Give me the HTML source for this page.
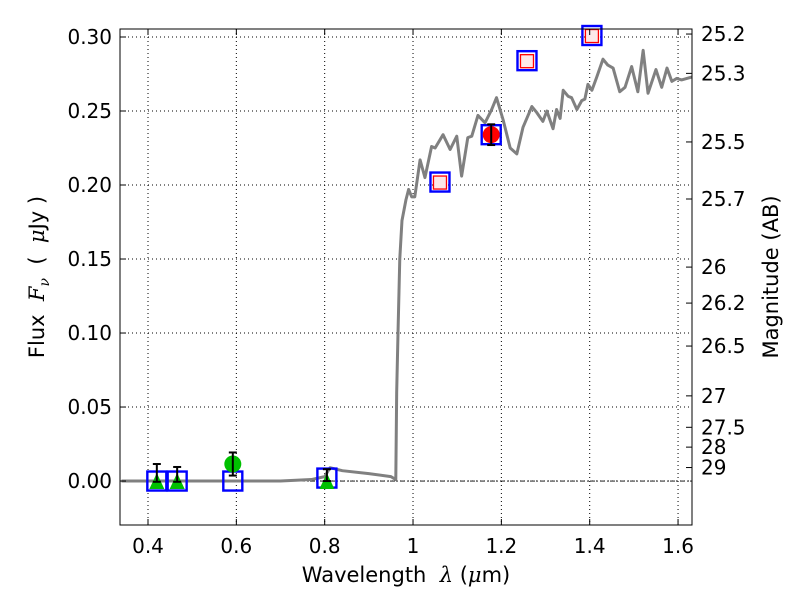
<!DOCTYPE html>
<html><head><meta charset="utf-8"><style>
body{margin:0;background:#fff;}
svg text{font-family:"DejaVu Sans","Liberation Sans",sans-serif;fill:#000;}
</style></head><body>
<svg id="chart" width="800" height="600" xmlns="http://www.w3.org/2000/svg">
<rect width="800" height="600" fill="#fff"/>
<g id="grid"></g>
<g id="plot"></g>
<g id="axes"></g>
<text x="406" y="582" font-size="21" text-anchor="middle" xml:space="preserve">Wavelength  <tspan font-style="italic" font-family="DejaVu Serif,serif">λ</tspan> (<tspan font-style="italic" font-family="DejaVu Serif,serif">μ</tspan>m)</text>
<text transform="translate(44,277) rotate(-90)" font-size="21" text-anchor="middle" xml:space="preserve">Flux  <tspan font-style="italic" font-family="DejaVu Serif,serif">F</tspan><tspan font-style="italic" font-family="DejaVu Serif,serif" font-size="14" dy="5">ν</tspan><tspan dy="-5">  (  </tspan><tspan font-style="italic" font-family="DejaVu Serif,serif">μ</tspan>Jy )</text>
<text transform="translate(778,277) rotate(-90)" font-size="21" text-anchor="middle">Magnitude (AB)</text>
</svg>
<script>
const specWl=[0.34,0.5,0.7,0.77,0.8,0.812,0.84,0.9,0.95,0.961,0.963,0.966,0.970,0.975,0.984,0.990,0.997,1.004,1.016,1.027,1.042,1.050,1.068,1.084,1.099,1.110,1.124,1.133,1.147,1.163,1.178,1.189,1.204,1.220,1.235,1.249,1.269,1.280,1.294,1.303,1.317,1.325,1.333,1.340,1.351,1.359,1.371,1.382,1.389,1.396,1.405,1.416,1.430,1.441,1.453,1.468,1.480,1.495,1.509,1.521,1.532,1.550,1.563,1.575,1.586,1.597,1.608,1.632];
const specFlux=[0,0,0,0.001,0.003,0.009,0.007,0.005,0.003,0.001,0.06,0.10,0.15,0.176,0.190,0.197,0.192,0.192,0.217,0.205,0.226,0.225,0.234,0.224,0.233,0.206,0.232,0.233,0.247,0.242,0.251,0.259,0.244,0.225,0.221,0.239,0.253,0.249,0.243,0.250,0.238,0.251,0.245,0.264,0.260,0.259,0.251,0.257,0.258,0.268,0.264,0.273,0.285,0.281,0.279,0.263,0.266,0.280,0.263,0.291,0.262,0.278,0.266,0.279,0.270,0.272,0.271,0.273];
const sqWl=[0.42,0.466,0.592,0.805,1.061,1.177,1.258,1.405];
const sqFlux=[0,0,0,0.002,0.202,0.234,0.284,0.301];
const sqInner=[0,0,0,0,1,0,1,1];
const triWl=[0.42,0.466,0.805];
const triFlux=[0,0,0];
const triErrVal=[0.0055,0.0045,0.004];
const triErr=[0.006,0.005,0.004];
const circWl=[0.592,1.177];
const circFlux=[0.0115,0.234];
const circErr=[0.0078,0.007];
const circColor=["#00c000","#ff0000"];
const xTicks=[0.4,0.6,0.8,1.0,1.2,1.4,1.6];
const xTickLabels=["0.4","0.6","0.8","1","1.2","1.4","1.6"];
const yTicks=[0,0.05,0.1,0.15,0.2,0.25,0.3];
const yTickLabels=["0.00","0.05","0.10","0.15","0.20","0.25","0.30"];
const magTicks=[25.2,25.3,25.5,25.7,26,26.2,26.5,27,27.5,28,29];

const L=120,R=692,T=29,B=525;
const X0=0.3366,X1=1.6316,Y0=-0.0297,Y1=0.3054;
const sx=v=>L+(v-X0)/(X1-X0)*(R-L);
const sy=v=>B-(v-Y0)/(Y1-Y0)*(B-T);
const NS="http://www.w3.org/2000/svg";
function mk(parent,tag,attrs){const e=document.createElementNS(NS,tag);for(const k in attrs)e.setAttribute(k,attrs[k]);parent.appendChild(e);return e;}
const grid=document.getElementById('grid'),plot=document.getElementById('plot'),axes=document.getElementById('axes');
xTicks.forEach((t,i)=>{
 const g=mk(grid,'line',{x1:sx(t),x2:sx(t),y1:T,y2:B,stroke:'#000','stroke-dasharray':'1,3','stroke-width':1});
 
 
 mk(axes,'line',{x1:sx(t),x2:sx(t),y1:B,y2:B-6,stroke:'#000'});
 mk(axes,'line',{x1:sx(t),x2:sx(t),y1:T,y2:T+6,stroke:'#000'});
 const tx=mk(axes,'text',{x:sx(t),y:B+28,'font-size':20,'text-anchor':'middle'});tx.textContent=xTickLabels[i];
 
 
});
yTicks.forEach((t,i)=>{
 const g=mk(grid,'line',{x1:L,x2:R,y1:sy(t),y2:sy(t),stroke:'#000','stroke-dasharray':'1,3','stroke-width':1});
 
 
 mk(axes,'line',{x1:L,x2:L+6,y1:sy(t),y2:sy(t),stroke:'#000'});
 const tx=mk(axes,'text',{x:L-8,y:sy(t)+7,'font-size':20,'text-anchor':'end'});tx.textContent=yTickLabels[i];
 
 
});
magTicks.forEach(m=>{
 const f=Math.pow(10,(23.9-m)/2.5);const y=sy(f);
 mk(axes,'line',{x1:R,x2:R-6,y1:y,y2:y,stroke:'#000'});
 const tx=mk(axes,'text',{x:R+9,y:y+7,'font-size':20});tx.textContent=String(m);
 
 
});
const zl=mk(plot,'line',{x1:L,x2:R,y1:sy(0),y2:sy(0),stroke:'#000','stroke-dasharray':'5,2,1,2','stroke-width':0.8});


const sp=mk(plot,'polyline',{points:specWl.map((w,i)=>sx(w)+','+sy(specFlux[i])).join(' '),fill:'none',stroke:'#808080','stroke-width':3,'stroke-linejoin':'round'});


sqWl.forEach((w,i)=>{
 const x=sx(w),y=sy(sqFlux[i]);
 const s=mk(plot,'rect',{x:x-9.5,y:y-9.5,width:19,height:19,fill:'none',stroke:'#0000ff','stroke-width':2.4});
 
 
 if(sqInner[i]){const r=mk(plot,'rect',{x:x-6.5,y:y-6,width:13,height:13,fill:'#fde8e8',stroke:'#ff0000','stroke-width':1.3});
 
 }
});
triWl.forEach((w,i)=>{
 const x=sx(w),y=sy(triFlux[i]);
 const t=mk(plot,'polygon',{points:`${x},${y-8} ${x-7.5},${y+8} ${x+7.5},${y+8}`,fill:'#00c000'});
 
 
 const yc=triErrVal[i],e=triErr[i],y1=sy(yc+e),y2=sy(yc-e);
 mk(plot,'line',{x1:x,x2:x,y1:y1,y2:y2,stroke:'#000','stroke-width':2});
 mk(plot,'line',{x1:x-4,x2:x+4,y1:y1,y2:y1,stroke:'#000','stroke-width':2});
 mk(plot,'line',{x1:x-4,x2:x+4,y1:y2,y2:y2,stroke:'#000','stroke-width':2});
});
circWl.forEach((w,i)=>{
 const x=sx(w),y=sy(circFlux[i]);
 const c=mk(plot,'circle',{cx:x,cy:y,r:8.5,fill:circColor[i]});
 
 
 const y1=sy(circFlux[i]+circErr[i]),y2=sy(circFlux[i]-circErr[i]);
 mk(plot,'line',{x1:x,x2:x,y1:y1,y2:y2,stroke:'#000','stroke-width':2});
 mk(plot,'line',{x1:x-4,x2:x+4,y1:y1,y2:y1,stroke:'#000','stroke-width':2});
 mk(plot,'line',{x1:x-4,x2:x+4,y1:y2,y2:y2,stroke:'#000','stroke-width':2});
});
const fr=mk(axes,'rect',{x:L,y:T,width:R-L,height:B-T,fill:'none',stroke:'#000','stroke-width':1});


</script>
</body></html>
